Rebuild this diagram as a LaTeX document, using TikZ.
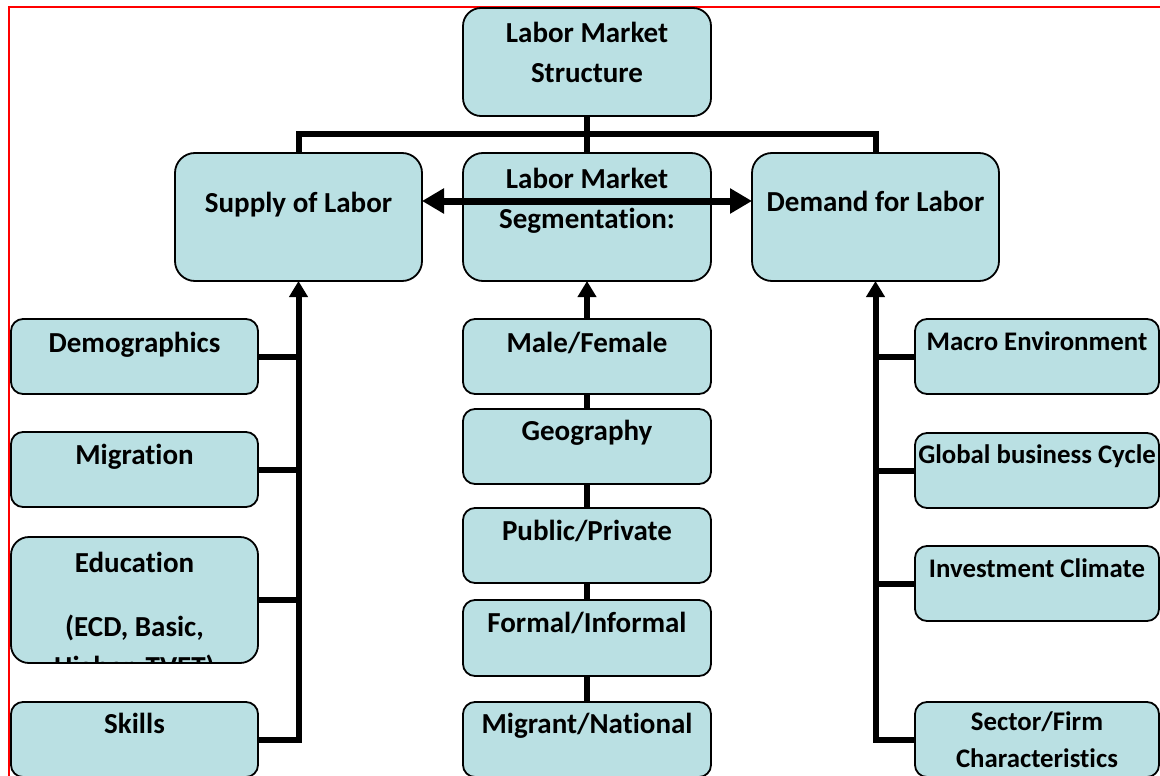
\documentclass[tikz,border=0pt]{standalone}
\usepackage{fontspec}
\setmainfont{Carlito}[Ligatures=NoCommon]
\usetikzlibrary{arrows.meta}
\definecolor{boxfill}{RGB}{186,224,227}
\begin{document}
\begin{tikzpicture}[x=1pt,y=-1pt,
  box/.style={draw=black,line width=1.8pt,fill=boxfill,anchor=north west,inner sep=0pt,outer sep=0pt},
  txt/.style={font=\bfseries\fontsize{29}{40}\selectfont,inner sep=0pt,anchor=base},
  rtxt/.style={font=\bfseries\fontsize{26.8}{37}\selectfont,inner sep=0pt,anchor=base},
  conn/.style={draw=black,line width=6pt,line join=miter},
  uparr/.style={-{Triangle[length=16pt,width=18pt]}},
  dblarr/.style={draw=black,line width=7pt,{Triangle[length=22pt,width=24pt]}-{Triangle[length=22pt,width=24pt]}}]
\useasboundingbox (0,0) rectangle (1160,776);
\clip (0,0) rectangle (1160,776);
% border
\draw[red,line width=2pt] (1175,7) -- (9,7) -- (9,790);
% boxes
\node[box,rounded corners=18pt,minimum width=248pt,minimum height=108pt] (struct) at (463,8) {};
\node[box,rounded corners=20pt,minimum width=247pt,minimum height=128pt] (supply) at (175,153) {};
\node[box,rounded corners=20pt,minimum width=248pt,minimum height=128pt] (seg) at (463,153) {};
\node[box,rounded corners=20pt,minimum width=247pt,minimum height=128pt] (demand) at (752,153) {};
\node[box,rounded corners=12pt,minimum width=247pt,minimum height=75pt] (demo) at (11,319) {};
\node[box,rounded corners=12pt,minimum width=247pt,minimum height=75pt] (migr) at (11,432) {};
\node[box,rounded corners=18pt,minimum width=247pt,minimum height=126pt] (educ) at (11,537) {};
\node[box,rounded corners=12pt,minimum width=247pt,minimum height=75pt] (skills) at (11,702) {};
\node[box,rounded corners=12pt,minimum width=248pt,minimum height=75pt] (male) at (463,319) {};
\node[box,rounded corners=12pt,minimum width=248pt,minimum height=75pt] (geo) at (463,409) {};
\node[box,rounded corners=12pt,minimum width=248pt,minimum height=75pt] (pub) at (463,508) {};
\node[box,rounded corners=12pt,minimum width=248pt,minimum height=76pt] (formal) at (463,600) {};
\node[box,rounded corners=12pt,minimum width=248pt,minimum height=75pt] (migrant) at (463,702) {};
\node[box,rounded corners=12pt,minimum width=244pt,minimum height=75pt] (macro) at (915,319) {};
\node[box,rounded corners=12pt,minimum width=244pt,minimum height=75pt] (glob) at (915,433) {};
\node[box,rounded corners=12pt,minimum width=244pt,minimum height=75pt] (invest) at (915,546) {};
\node[box,rounded corners=12pt,minimum width=244pt,minimum height=75pt] (sector) at (915,702) {};
% texts
\node[txt] (t-struct1) at ([yshift=-35pt]struct.north) {Labor Market};
\node[txt] (t-struct2) at ([yshift=-75pt]struct.north) {Structure};
\node[txt] (t-supply) at ([yshift=-59pt]supply.north) {Supply of Labor};
\node[txt] (t-seg1) at ([yshift=-35pt]seg.north) {Labor Market};
\node[txt] (t-seg2) at ([yshift=-75pt]seg.north) {Segmentation:};
\node[txt] (t-demand) at ([yshift=-58pt]demand.north) {Demand for Labor};
\node[txt] (t-demo) at ([yshift=-33pt]demo.north) {Demographics};
\node[txt] (t-migr) at ([yshift=-32pt]migr.north) {Migration};
\node[txt] (t-educ1) at ([yshift=-35pt]educ.north) {Education};
\node[txt] (t-educ2) at ([yshift=-99pt]educ.north) {(ECD, Basic,};
\begin{scope}
  \clip (12,538) rectangle (257,662);
  \node[txt] (t-educ3) at ([yshift=-139pt]educ.north) {Higher, TVET)};
\end{scope}
\node[txt] (t-skills) at ([yshift=-31pt]skills.north) {Skills};
\node[txt] (t-male) at ([yshift=-33pt]male.north) {Male/Female};
\node[txt] (t-geo) at ([yshift=-31pt]geo.north) {Geography};
\node[txt] (t-pub) at ([yshift=-32pt]pub.north) {Public/Private};
\node[txt] (t-formal) at ([yshift=-32pt]formal.north) {Formal/Informal};
\node[txt] (t-migrant) at ([yshift=-31pt]migrant.north) {Migrant/National};
\node[rtxt] (t-macro) at ([yshift=-31pt]macro.north) {Macro Environment};
\node[rtxt] (t-glob) at ([yshift=-30pt]glob.north) {Global business Cycle};
\node[rtxt] (t-invest) at ([yshift=-31pt]invest.north) {Investment Climate};
\node[rtxt] (t-sector1) at ([yshift=-28pt]sector.north) {Sector/Firm};
\node[rtxt] (t-sector2) at ([yshift=-65pt]sector.north) {Characteristics};
% top bus
\coordinate (bus) at (587,134);
\draw[conn] (supply.north) -- (supply.north |- bus) -- (demand.north |- bus) -- (demand.north);
\draw[conn] (struct.south) -- (seg.north);
% left bus
\draw[conn,uparr] (skills.east) -- (skills.east -| supply.south) -- (supply.south);
\draw[conn] (demo.east) -- (demo.east -| supply.south);
\draw[conn] (migr.east) -- (migr.east -| supply.south);
\draw[conn] (educ.east) -- (educ.east -| supply.south);
% right bus
\draw[conn,uparr] (sector.west) -- (sector.west -| demand.south) -- (demand.south);
\draw[conn] (macro.west) -- (macro.west -| demand.south);
\draw[conn] (glob.west) -- (glob.west -| demand.south);
\draw[conn] (invest.west) -- (invest.west -| demand.south);
% center chain
\draw[conn,uparr] (male.north) -- (seg.south);
\draw[conn] (male.south) -- (geo.north);
\draw[conn] (geo.south) -- (pub.north);
\draw[conn] (pub.south) -- (formal.north);
\draw[conn] (formal.south) -- (migrant.north);
% double arrow
\draw[dblarr] ([yshift=16pt]supply.east) -- ([yshift=16pt]demand.west);
\end{tikzpicture}
\end{document}
